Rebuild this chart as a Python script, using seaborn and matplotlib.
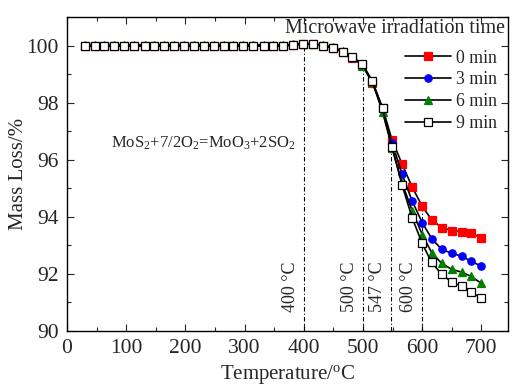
import matplotlib
matplotlib.use("Agg")
import matplotlib.pyplot as plt
import seaborn as sns
import numpy as np

temperature = [30, 47, 63, 80, 97, 114, 131, 147, 164, 181, 198, 214, 231, 248, 265,
               281, 298, 315, 332, 348, 365, 382, 399, 415, 432, 449, 466, 482, 499,
               516, 533, 549, 566, 583, 600, 616, 633, 650, 667, 683, 700]

mass_0min = [100.0, 100.0, 100.0, 100.0, 100.0, 100.0, 100.0, 100.0, 100.0, 100.0, 100.0,
             100.0, 100.0, 100.0, 100.0, 100.0, 100.0, 100.0, 100.0, 100.0, 100.0, 100.03,
             100.06, 100.06, 100.0, 99.93, 99.78, 99.58, 99.32, 98.68, 97.82, 96.7, 95.85,
             95.05, 94.37, 93.9, 93.62, 93.52, 93.48, 93.42, 93.27]
mass_3min = [99.98, 99.98, 99.98, 99.98, 99.98, 99.98, 99.98, 99.98, 99.98, 99.98, 99.98,
             99.98, 99.98, 99.98, 99.98, 99.98, 99.98, 99.98, 99.98, 99.98, 99.98, 100.01,
             100.04, 100.04, 99.99, 99.92, 99.78, 99.58, 99.32, 98.72, 97.8, 96.6, 95.5,
             94.56, 93.8, 93.24, 92.86, 92.72, 92.62, 92.44, 92.27]
mass_6min = [100.02, 100.02, 100.02, 100.02, 100.02, 100.02, 100.02, 100.02, 100.02, 100.02,
             100.02, 100.02, 100.02, 100.02, 100.02, 100.02, 100.02, 100.02, 100.02, 100.02,
             100.02, 100.04, 100.07, 100.07, 100.02, 99.95, 99.8, 99.6, 99.3, 98.72, 97.68,
             96.42, 95.19, 94.22, 93.38, 92.75, 92.37, 92.16, 92.06, 91.91, 91.67]
mass_9min = [100.0, 100.0, 100.0, 100.0, 100.0, 100.0, 100.0, 100.0, 100.0, 100.0, 100.0,
             100.0, 100.0, 100.0, 100.0, 100.0, 100.0, 100.0, 100.0, 100.0, 100.0, 100.03,
             100.06, 100.06, 100.0, 99.93, 99.78, 99.6, 99.36, 98.75, 97.8, 96.45, 95.12,
             93.97, 93.07, 92.4, 91.99, 91.71, 91.57, 91.36, 91.15]

labels = ["0 min", "3 min", "6 min", "9 min"]
markers = ["s", "o", "^", "s"]
face_colors = ["#ff0000", "#0000ff", "#008000", "#ffffff"]
edge_colors = ["#ff0000", "#0000ff", "#008000", "#000000"]

mark_temps = [400, 500, 547, 600]
mark_tops = [99.9, 99.3, 96.6, 94.35]
mark_texts = ["400 °C", "500 °C", "547 °C", "600 °C"]

sns.set_style("ticks")
plt.rcParams["font.family"] = ["Liberation Serif", "DejaVu Serif"]
plt.rcParams["mathtext.fontset"] = "custom"
plt.rcParams["mathtext.rm"] = "Liberation Serif"
plt.rcParams["mathtext.it"] = "Liberation Serif:italic"

fig = plt.figure(figsize=(5.12, 3.88), dpi=100)
ax = fig.add_axes([67 / 512, 1 - 331 / 388, 441 / 512, 314 / 388])

for lab, ys, m, fc, ec in zip(labels, [mass_0min, mass_3min, mass_6min, mass_9min],
                              markers, face_colors, edge_colors):
    sns.lineplot(x=temperature, y=ys, ax=ax, color="#2a2a2a", linewidth=1.2,
                 marker=m, markersize=5.3 if m != "^" else 6,
                 markerfacecolor=fc, markeredgecolor=ec, markeredgewidth=0.9,
                 label=lab, estimator=None, sort=False)

for t, top, txt in zip(mark_temps, mark_tops, mark_texts):
    ax.plot([t, t], [90, top], color="black", linewidth=0.8,
            linestyle=(0, (4, 2, 1, 2)), zorder=1)
    ax.text(t - 8, 90.65, txt, rotation=90, ha="right", va="bottom", fontsize=13)

ax.text(74, 96.58, r"MoS$_2$+7/2O$_2$=MoO$_3$+2SO$_2$", fontsize=12, va="center", ha="left")

ax.set_xlim(0, 745)
ax.set_ylim(90, 101)
ax.set_xticks([0, 100, 200, 300, 400, 500, 600, 700])
ax.set_xticks(np.arange(50, 745, 100), minor=True)
ax.set_yticks([90, 92, 94, 96, 98, 100])
ax.set_yticks([91, 93, 95, 97, 99, 101], minor=True)
ax.tick_params(which="both", direction="in", top=True, right=True, width=0.8)
ax.tick_params(which="major", length=5, labelsize=15.5, pad=6)
ax.tick_params(which="minor", length=3)
for s in ax.spines.values():
    s.set_linewidth(1.0)
    s.set_color("black")

ax.set_xlabel("Temperature/$^\\mathrm{o}$C", fontsize=15, labelpad=3.5)
ax.set_ylabel("Mass Loss/%", fontsize=15, labelpad=-1)

ax.text(0.993, 0.963, "Microwave irradiation time", transform=ax.transAxes,
        ha="right", va="center", fontsize=14.4)
handles, labs = ax.get_legend_handles_labels()
for h in handles:
    h.set_color("black")
ax.legend(handles, labs, loc="upper right", bbox_to_anchor=(1.0, 0.93), frameon=False,
          fontsize=12.8, handlelength=2.6, handletextpad=0.3, labelspacing=0.27,
          borderaxespad=0.2)

fig.savefig("out.png", dpi=100)
